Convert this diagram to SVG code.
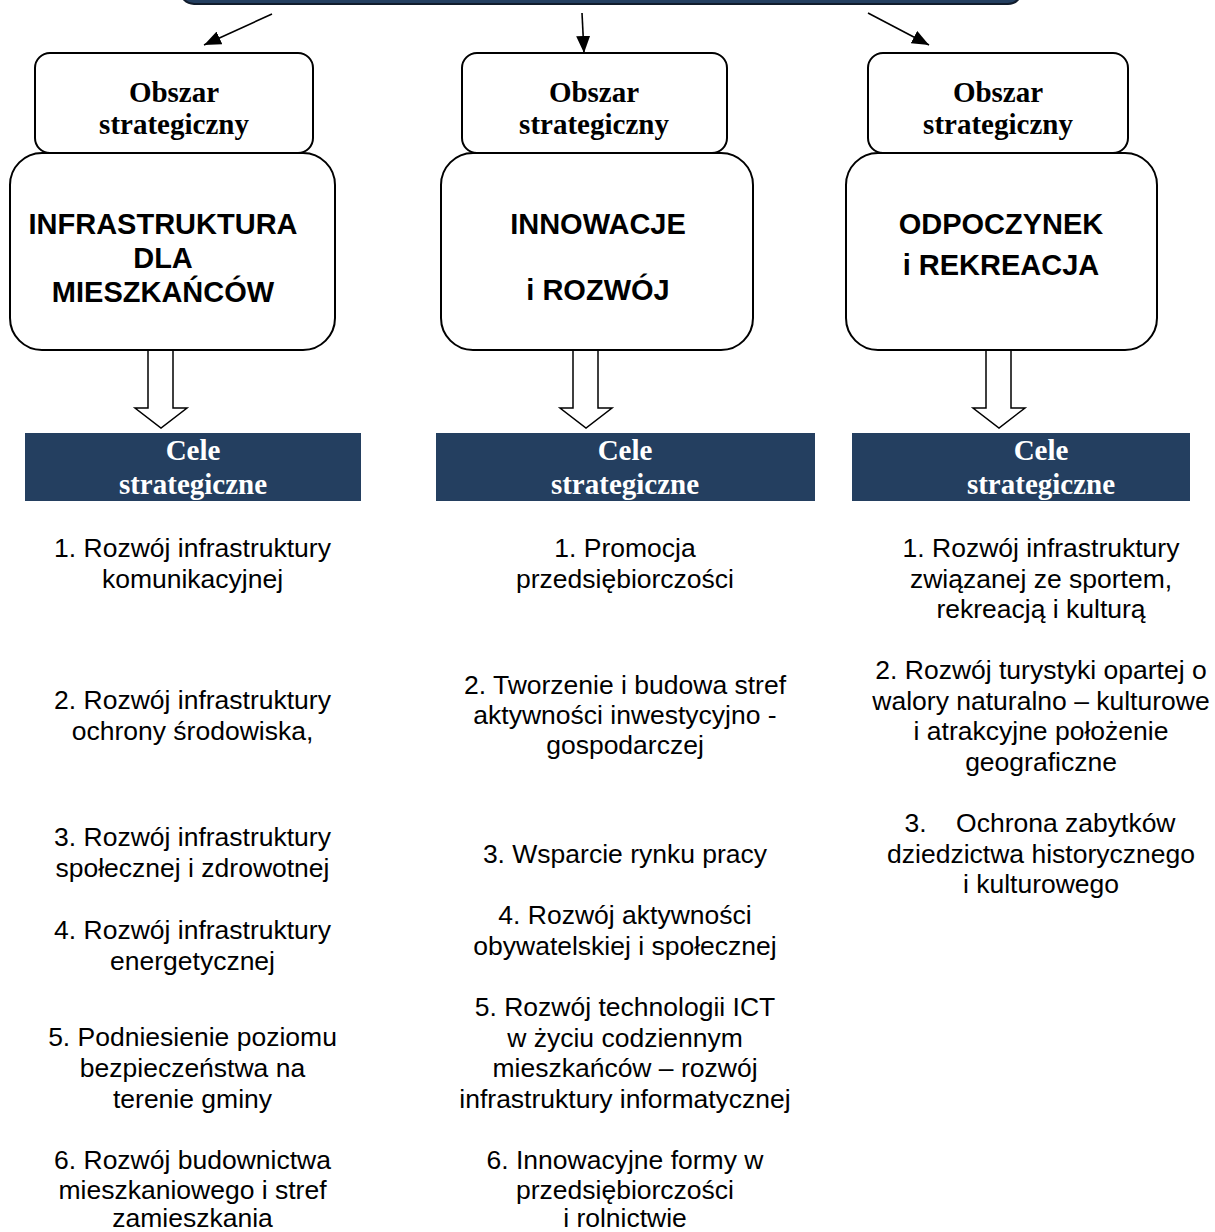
<svg xmlns="http://www.w3.org/2000/svg" width="1215" height="1232" viewBox="0 0 1215 1232">
<style>
.box{fill:#fff;stroke:#000;stroke-width:2}
.obs{font-family:"Liberation Serif","Times New Roman",serif;font-weight:bold;font-size:29px;fill:#000;text-anchor:middle}
.big{font-family:"Liberation Sans",Arial,sans-serif;font-weight:bold;font-size:29px;fill:#000;text-anchor:middle}
.bar{fill:#243F60}
.cele{font-family:"Liberation Serif","Times New Roman",serif;font-weight:bold;font-size:29px;fill:#fff;text-anchor:middle}
.body{font-family:"Liberation Sans",Arial,sans-serif;font-size:26.5px;fill:#000;text-anchor:middle;white-space:pre}
.conn{stroke:#000;stroke-width:1.6;fill:none}
.blk{fill:#fff;stroke:#000;stroke-width:1.5}
</style>
<defs>
<marker id="ah" markerUnits="userSpaceOnUse" markerWidth="18" markerHeight="14" refX="17" refY="7" orient="auto">
<path d="M0,0 L17,7 L0,14 z" fill="#000"/>
</marker>
</defs>
<rect width="1215" height="1232" fill="#fff"/>

<g id="top">
<rect x="180" y="-40" width="842" height="44" rx="14" fill="#243F60" stroke="#111c2c" stroke-width="2"/>
</g>

<g id="connectors">
<line class="conn" x1="272" y1="14" x2="204" y2="45" marker-end="url(#ah)"/>
<line class="conn" x1="582" y1="13" x2="584" y2="53" marker-end="url(#ah)"/>
<line class="conn" x1="868" y1="13" x2="929" y2="45" marker-end="url(#ah)"/>
<path class="blk" d="M148,350 L173,350 L173,408 L187,408 L161,428 L135,408 L148,408 Z"/>
<path class="blk" d="M573,350 L598,350 L598,408 L612,408 L586,428 L560,408 L573,408 Z"/>
<path class="blk" d="M986,350 L1011,350 L1011,408 L1025,408 L999,428 L973,408 L986,408 Z"/>
</g>

<g id="area1">
<rect class="box" x="10" y="153" width="325" height="197" rx="32"/>
<rect class="box" x="35" y="53" width="278" height="100" rx="15"/>
<text class="obs" x="174" y="102">Obszar</text>
<text class="obs" x="174" y="134">strategiczny</text>
<text class="big" x="163" y="234">INFRASTRUKTURA</text>
<text class="big" x="163" y="268">DLA</text>
<text class="big" x="163" y="302">MIESZKAŃCÓW</text>
</g>

<g id="area2">
<rect class="box" x="441" y="153" width="312" height="197" rx="32"/>
<rect class="box" x="462" y="53" width="265" height="100" rx="15"/>
<text class="obs" x="594" y="102">Obszar</text>
<text class="obs" x="594" y="134">strategiczny</text>
<text class="big" x="598" y="234">INNOWACJE</text>
<text class="big" x="598" y="300">i ROZWÓJ</text>
</g>

<g id="area3">
<rect class="box" x="846" y="153" width="311" height="197" rx="32"/>
<rect class="box" x="868" y="53" width="260" height="100" rx="15"/>
<text class="obs" x="998" y="102">Obszar</text>
<text class="obs" x="998" y="134">strategiczny</text>
<text class="big" x="1001" y="234">ODPOCZYNEK</text>
<text class="big" x="1001" y="275">i REKREACJA</text>
</g>

<g id="goals1">
<rect class="bar" x="25" y="433" width="336" height="68"/>
<text class="cele" x="193" y="460">Cele</text>
<text class="cele" x="193" y="494">strategiczne</text>
<text class="body" x="192.5" y="557">1. Rozwój infrastruktury</text>
<text class="body" x="192.5" y="588">komunikacyjnej</text>
<text class="body" x="192.5" y="709">2. Rozwój infrastruktury</text>
<text class="body" x="192.5" y="740">ochrony środowiska,</text>
<text class="body" x="192.5" y="846">3. Rozwój infrastruktury</text>
<text class="body" x="192.5" y="877">społecznej i zdrowotnej</text>
<text class="body" x="192.5" y="939">4. Rozwój infrastruktury</text>
<text class="body" x="192.5" y="970">energetycznej</text>
<text class="body" x="192.5" y="1046">5. Podniesienie poziomu</text>
<text class="body" x="192.5" y="1077">bezpieczeństwa na</text>
<text class="body" x="192.5" y="1108">terenie gminy</text>
<text class="body" x="192.5" y="1169">6. Rozwój budownictwa</text>
<text class="body" x="192.5" y="1199">mieszkaniowego i stref</text>
<text class="body" x="192.5" y="1227">zamieszkania</text>
</g>

<g id="goals2">
<rect class="bar" x="436" y="433" width="379" height="68"/>
<text class="cele" x="625" y="460">Cele</text>
<text class="cele" x="625" y="494">strategiczne</text>
<text class="body" x="625" y="557">1. Promocja</text>
<text class="body" x="625" y="588">przedsiębiorczości</text>
<text class="body" x="625" y="694">2. Tworzenie i budowa stref</text>
<text class="body" x="625" y="724">aktywności inwestycyjno -</text>
<text class="body" x="625" y="754">gospodarczej</text>
<text class="body" x="625" y="863">3. Wsparcie rynku pracy</text>
<text class="body" x="625" y="924">4. Rozwój aktywności</text>
<text class="body" x="625" y="955">obywatelskiej i społecznej</text>
<text class="body" x="625" y="1016">5. Rozwój technologii ICT</text>
<text class="body" x="625" y="1047">w życiu codziennym</text>
<text class="body" x="625" y="1077">mieszkańców – rozwój</text>
<text class="body" x="625" y="1108">infrastruktury informatycznej</text>
<text class="body" x="625" y="1169">6. Innowacyjne formy w</text>
<text class="body" x="625" y="1199">przedsiębiorczości</text>
<text class="body" x="625" y="1227">i rolnictwie</text>
</g>

<g id="goals3">
<rect class="bar" x="852" y="433" width="338" height="68"/>
<text class="cele" x="1041" y="460">Cele</text>
<text class="cele" x="1041" y="494">strategiczne</text>
<text class="body" x="1041" y="557">1. Rozwój infrastruktury</text>
<text class="body" x="1041" y="588">związanej ze sportem,</text>
<text class="body" x="1041" y="618">rekreacją i kulturą</text>
<text class="body" x="1041" y="679">2. Rozwój turystyki opartej o</text>
<text class="body" x="1041" y="710">walory naturalno – kulturowe</text>
<text class="body" x="1041" y="740">i atrakcyjne położenie</text>
<text class="body" x="1041" y="771">geograficzne</text>
<text class="body" x="1040" y="832">3.    Ochrona zabytków</text>
<text class="body" x="1041" y="863">dziedzictwa historycznego</text>
<text class="body" x="1041" y="893">i kulturowego</text>
</g>
</svg>
